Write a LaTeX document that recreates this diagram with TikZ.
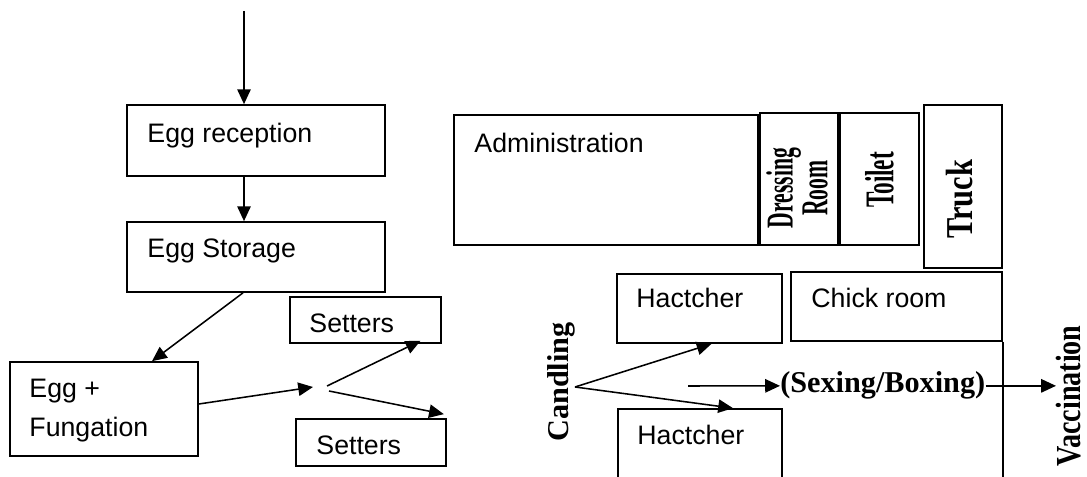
\documentclass[tikz,border=0pt]{standalone}
\usepackage{fontspec}
\setmainfont{Liberation Sans}
\newfontfamily\labelserif{Liberation Serif}
\newfontfamily\narrowserif[FakeStretch=0.57]{Liberation Serif}
\newfontfamily\vaccserif[FakeStretch=0.8]{Liberation Serif}
\usepackage{tikz}
\usetikzlibrary{positioning, calc, arrows.meta, fit}

\begin{document}
\begin{tikzpicture}[
    x=0.025cm, y=-0.025cm,
    room/.style={draw, line width=1.2pt, inner sep=0pt},
    flow/.style={-{Triangle[length=10.5pt,width=9.5pt]}, line width=1.1pt},
    roomlabel/.style={anchor=base west, inner sep=0pt, font=\fontsize{19}{27.7}\selectfont},
    stamp/.style={inner sep=0pt, font=\labelserif\bfseries\fontsize{21.5}{24}\selectfont},
  ]
    \clip (0,0) rectangle (1087,477);

    % Flow line rooms
    \node[room, fit={(127,105) (385,176)}] (reception) {};
    \node[room, fit={(127,222) (385,292)}] (storage) {};
    \node[room, fit={(10,362) (198,456)}] (fungation) {};
    \node[room, fit={(290,297) (441,343)}] (settersA) {};
    \node[room, fit={(296,419) (446,466)}] (settersB) {};
    \node[room, fit={(617,274) (782,343)}] (hatcherA) {};
    \node[room, fit={(618,409) (782,500)}] (hatcherB) {};

    % Other rooms
    \node[room, fit={(454,115) (758,245)}] (admin) {};
    \node[room, fit={(760,113) (838,245)}] (dressing) {};
    \node[room, fit={(840,113) (919,245)}] (toilet) {};
    \node[room, fit={(924,105) (1002,268)}] (truck) {};
    \node[room, fit={(791,272) (1002,341)}] (chick) {};
    \draw[line width=1.2pt] (chick.south east) -- ++(0,150);

    % Room names
    \node[roomlabel] (receptionText) at ([shift={(21,38)}]reception.north west) {Egg reception};
    \node[roomlabel] (storageText) at ([shift={(21,36)}]storage.north west) {Egg Storage};
    \node[roomlabel, anchor=north west, align=left] (fungationText) at ([shift={(20,18)}]fungation.north west) {Egg +\\Fungation};
    \node[roomlabel] (settersAText) at ([shift={(20,36)}]settersA.north west) {Setters};
    \node[roomlabel] (settersBText) at ([shift={(21,36)}]settersB.north west) {Setters};
    \node[roomlabel] (hatcherAText) at ([shift={(20,34)}]hatcherA.north west) {Hactcher};
    \node[roomlabel] (hatcherBText) at ([shift={(20,36)}]hatcherB.north west) {Hactcher};
    \node[roomlabel] (adminText) at ([shift={(21,38)}]admin.north west) {Administration};
    \node[roomlabel] (chickText) at ([shift={(21,36)}]chick.north west) {Chick room};

    \node[rotate=90, align=center, inner sep=0pt, font=\narrowserif\bfseries\fontsize{27}{22}\selectfont]
      (dressingText) at ([shift={(-2,9)}]dressing.center) {Dressing\\Room};
    \node[rotate=90, inner sep=0pt, font=\narrowserif\bfseries\fontsize{29}{30}\selectfont]
      (toiletText) at ([shift={(0,1)}]toilet.center) {Toilet};
    \node[rotate=90, inner sep=0pt, font=\vaccserif\bfseries\fontsize{27}{28}\selectfont]
      (truckText) at ([shift={(-3,13)}]truck.center) {Truck};

    % Steps
    \node[stamp, rotate=90, anchor=south] (candling) at (575,382) {Candling};
    \node[stamp, anchor=base west] (sexing) at (780,393) {(Sexing/Boxing)};
    \node[rotate=90, anchor=north, inner sep=0pt, font=\vaccserif\bfseries\fontsize{25}{27}\selectfont]
      (vaccination) at (1056,396) {Vaccination};

    % Arrows
    \coordinate (entry) at (244,11);
    \coordinate (fork) at (320,388);
    \coordinate (cand) at (575,387);
    \coordinate (sexStart) at (688,386);
    \draw[flow] (entry) -- (entry |- reception.north);
    \draw[flow] (entry |- reception.south) -- (entry |- storage.north);
    \draw[flow] ([shift={(-13,0)}]storage.south) -- ([shift={(48,0)}]fungation.north);
    \draw[flow] ([shift={(0,-5)}]fungation.east) -- ([shift={(-7,-1)}]fork);
    \draw[flow] ([shift={(7,-2)}]fork) -- ([shift={(55,-3)}]settersA.south);
    \draw[flow] ([shift={(9,3)}]fork) -- ([shift={(-3,-4)}]settersB.north east);
    \draw[flow] (cand) -- ([shift={(12,0)}]hatcherA.south);
    \draw[flow] (cand) -- ([shift={(33,0)}]hatcherB.north);
    \draw[flow] (sexStart) -- (sexing.west);
    \draw[flow] (sexing.east) -- (sexing.east -| vaccination.north);
  \end{tikzpicture}
\end{document}
